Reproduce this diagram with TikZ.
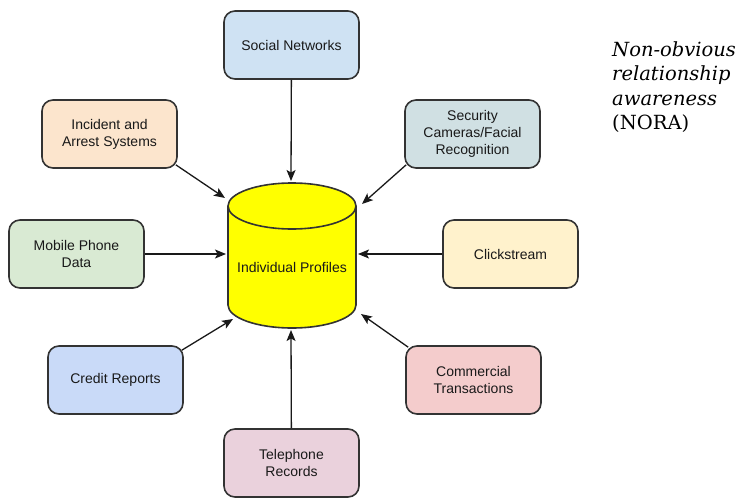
\documentclass[tikz,border=0pt]{standalone}
\usepackage{fontspec}
\setmainfont{Liberation Sans}
\newfontfamily\noraf{DejaVu Serif}
\usetikzlibrary{arrows.meta}
\definecolor{bordc}{HTML}{333333}
\definecolor{cSocial}{HTML}{CFE2F3}
\definecolor{cIncident}{HTML}{FCE5CD}
\definecolor{cSecurity}{HTML}{D0E0E3}
\definecolor{cMobile}{HTML}{D9EAD3}
\definecolor{cClick}{HTML}{FFF2CC}
\definecolor{cCredit}{HTML}{C9DAF8}
\definecolor{cCommerce}{HTML}{F4CCCC}
\definecolor{cPhone}{HTML}{EAD1DC}
\definecolor{cCyl}{HTML}{FFFF00}
\tikzset{
  srcbox/.style={draw=bordc, line width=1.6pt, rounded corners=11pt,
    minimum width=135pt, minimum height=68pt, align=center,
    font=\fontsize{14pt}{17pt}\selectfont, text=black!90, inner sep=2pt},
  feed/.style={draw=black!90, line width=1.3pt,
    -{Stealth[length=11pt,width=9pt,inset=2.5pt]}}
}
\begin{document}
\begin{tikzpicture}[x=1pt,y=-1pt]
\useasboundingbox (0,0) rectangle (741,498);
% cylinder
\fill[cCyl] (228,206) -- (228,305)
  arc[start angle=180, end angle=360, x radius=64pt, y radius=23pt]
  -- (356,206)
  arc[start angle=0, end angle=180, x radius=64pt, y radius=23pt] -- cycle;
\draw[bordc, line width=1.6pt] (228,206) -- (228,305)
  arc[start angle=180, end angle=360, x radius=64pt, y radius=23pt]
  -- (356,206);
\draw[bordc, line width=1.6pt] (292,206) ellipse[x radius=64pt, y radius=23pt];
\node[font=\fontsize{14pt}{17pt}\selectfont, text=black!90] (cyl) at (292,267) {Individual Profiles};
% arrow tips on the cylinder
\coordinate (tSocial) at (291,181);
\coordinate (tIncident) at (225,198);
\coordinate (tSecurity) at (362,204);
\coordinate (tMobile) at (226,254);
\coordinate (tClick) at (358,254);
\coordinate (tCredit) at (233,319);
\coordinate (tCommerce) at (361,314);
\coordinate (tPhone) at (291,330);
% source boxes
\node[srcbox, fill=cSocial] (social) at (291.5,45) {Social Networks};
\node[srcbox, fill=cIncident] (incident) at (109.5,134) {Incident and\\Arrest Systems};
\node[srcbox, fill=cSecurity] (security) at (472.5,134) {Security\\Cameras/Facial\\Recognition};
\node[srcbox, fill=cMobile] (mobile) at (76.5,254) {Mobile Phone\\Data};
\node[srcbox, fill=cClick] (click) at (510.5,254) {Clickstream};
\node[srcbox, fill=cCredit] (credit) at (115.5,380) {Credit Reports};
\node[srcbox, fill=cCommerce] (commerce) at (473.5,380) {Commercial\\Transactions};
\node[srcbox, fill=cPhone] (phone) at (291.5,463) {Telephone\\Records};
% connector start points at the rounded corners
\coordinate (sIncident) at ([xshift=-2pt,yshift=4pt]incident.south east);
\coordinate (sSecurity) at ([xshift=2pt,yshift=4pt]security.south west);
\coordinate (sCredit) at ([xshift=-2pt,yshift=-5pt]credit.north east);
\coordinate (sCommerce) at ([xshift=3pt,yshift=-2pt]commerce.north west);
% connectors
\draw[feed] (social) -- (tSocial);
\draw[feed] (sIncident) -- (tIncident);
\draw[feed] (sSecurity) -- (tSecurity);
\draw[feed] (mobile) -- (tMobile);
\draw[feed] (click) -- (tClick);
\draw[feed] (sCredit) -- (tCredit);
\draw[feed] (sCommerce) -- (tCommerce);
\draw[feed] (phone) -- (tPhone);
% caption
\node[anchor=north west, inner sep=0pt, align=left,
  font=\noraf\fontsize{19.5pt}{24.5pt}\selectfont] (nora) at (612,41)
  {\itshape Non-obvious\\\itshape relationship\\\itshape awareness\\(NORA)};
\end{tikzpicture}
\end{document}
